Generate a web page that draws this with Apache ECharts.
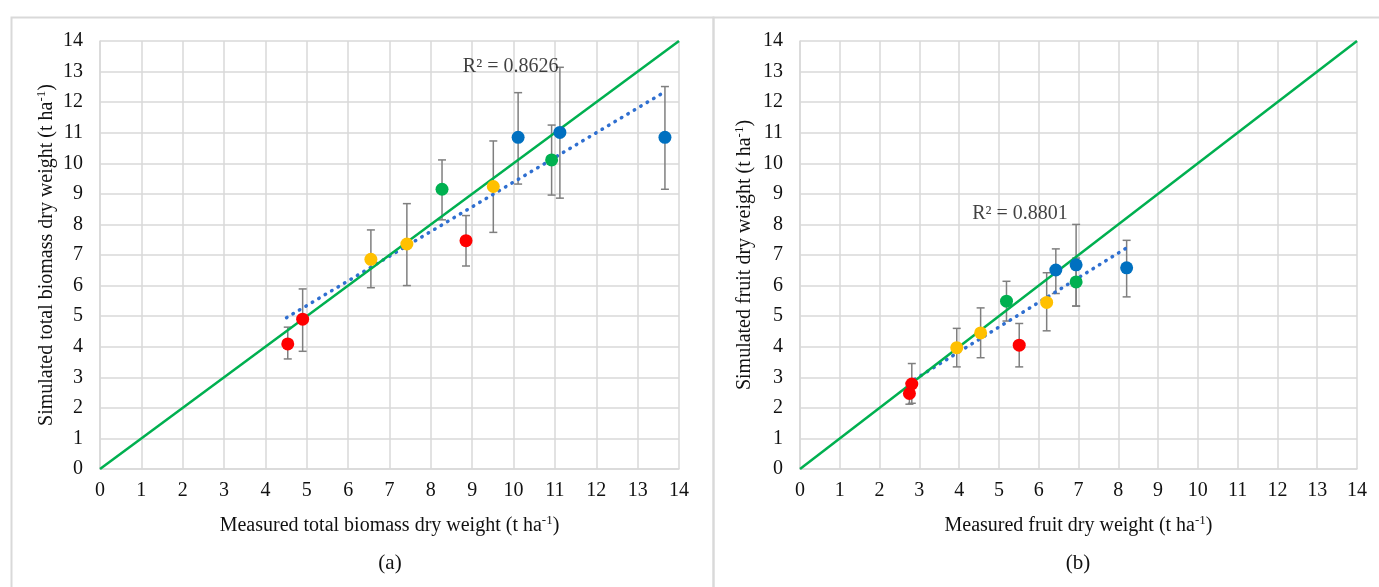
<!DOCTYPE html>
<html>
<head>
<meta charset="utf-8">
<script src="https://cdn.jsdelivr.net/npm/echarts@6/dist/echarts.min.js"></script>
<style>
html,body{margin:0;padding:0;background:#fff;}
#chart{width:1379px;height:587px;}
</style>
</head>
<body>
<div id="chart"></div>
<script>
// ---------- DATA ----------
const groupNames = ['Group 1', 'Group 2', 'Group 3', 'Group 4'];
const axisTicks = [0,1,2,3,4,5,6,7,8,9,10,11,12,13,14];

// Panel (a): total biomass
const aMeasured  = [4.54, 4.90, 8.85, 6.55, 7.42, 9.51, 8.27, 10.92, 10.11, 11.12, 13.66];
const aSimulated = [4.09, 4.90, 7.47, 6.86, 7.36, 9.24, 9.15, 10.11, 10.85, 11.01, 10.85];
const aLow       = [3.60, 3.85, 6.64, 5.93, 6.00, 7.74, 8.15, 8.96, 9.32, 8.86, 9.15];
const aHigh      = [4.64, 5.89, 8.29, 7.82, 8.68, 10.73, 10.11, 11.25, 12.31, 13.14, 12.51];
const aGroup     = [0, 0, 0, 1, 1, 1, 2, 2, 3, 3, 3];
const aTrendX    = [4.51, 13.66];
const aTrendY    = [4.95, 12.34];
const aR2        = 'R² = 0.8626';
const aR2Pos     = [9.93, 13.17];

// Panel (b): fruit
const bMeasured  = [2.81, 2.75, 5.51, 3.94, 4.54, 6.20, 5.19, 6.94, 6.43, 6.94, 8.21];
const bSimulated = [2.78, 2.47, 4.05, 3.97, 4.45, 5.45, 5.49, 6.12, 6.51, 6.68, 6.58];
const bLow       = [2.15, 2.12, 3.34, 3.34, 3.64, 4.52, 4.84, 5.33, 5.74, 5.33, 5.63];
const bHigh      = [3.45, 2.80, 4.76, 4.60, 5.27, 6.42, 6.14, 6.90, 7.20, 8.00, 7.48];
const bGroup     = [0, 0, 0, 1, 1, 1, 2, 2, 3, 3, 3];
const bTrendX    = [2.72, 8.23];
const bTrendY    = [2.80, 7.25];
const bR2        = 'R² = 0.8801';
const bR2Pos     = [5.53, 8.36];

const oneToOne = [0, 14];

// ---------- STYLE ----------
const palette = ['#ff0000', '#ffc000', '#00b050', '#0070c0'];
const FONT = 'Liberation Serif';
const TXT = '#111111';
const GRIDC = '#d9d9d9';
const FS = 20;

const chart = echarts.init(document.getElementById('chart'), null, {renderer: 'canvas'});

const rich = {
  n: {fontFamily: FONT, fontSize: FS, color: TXT, lineHeight: 24},
  s: {fontFamily: FONT, fontSize: 13, color: TXT, lineHeight: 13, verticalAlign: 'top'}
};

function xAxisDef(gi, name) {
  return {
    gridIndex: gi, type: 'value', min: axisTicks[0], max: axisTicks[axisTicks.length-1], interval: 1,
    name: '{n|' + name + ' (t ha}{s|-1}{n|)}', nameLocation: 'middle', nameGap: 45,
    nameTextStyle: {rich: rich},
    axisLine: {lineStyle: {color: GRIDC, width: 1.5}}, axisTick: {show: false},
    axisLabel: {fontFamily: FONT, fontSize: FS, color: TXT, margin: 12},
    splitLine: {show: true, lineStyle: {color: GRIDC, width: 1.5}}
  };
}
function yAxisDef(gi, name, gap) {
  return {
    gridIndex: gi, type: 'value', min: axisTicks[0], max: axisTicks[axisTicks.length-1], interval: 1,
    name: '{n|' + name + ' (t ha}{s|-1}{n|)}', nameLocation: 'middle', nameGap: gap, nameRotate: 90,
    nameTextStyle: {rich: rich},
    axisLine: {show: true, lineStyle: {color: GRIDC, width: 1.5}}, axisTick: {show: false},
    axisLabel: {fontFamily: FONT, fontSize: FS, color: TXT, margin: 17},
    splitLine: {show: true, lineStyle: {color: GRIDC, width: 1.5}}
  };
}

function errRender(params, api) {
  const x = api.value(0), lo = api.value(1), hi = api.value(2);
  const t = api.coord([x, hi]), b = api.coord([x, lo]);
  const cw = 4;
  const st = {stroke: '#7f7f7f', lineWidth: 1.5};
  return {type: 'group', children: [
    {type: 'line', shape: {x1: t[0], y1: t[1], x2: b[0], y2: b[1]}, style: st},
    {type: 'line', shape: {x1: t[0]-cw, y1: t[1], x2: t[0]+cw, y2: t[1]}, style: st},
    {type: 'line', shape: {x1: b[0]-cw, y1: b[1], x2: b[0]+cw, y2: b[1]}, style: st}
  ]};
}

function panelSeries(gi, meas, sim, lo, hi, grp, tx, ty, r2, r2pos) {
  const s = [];
  s.push({
    type: 'custom', xAxisIndex: gi, yAxisIndex: gi, renderItem: errRender,
    encode: {x: 0, y: [1, 2]}, silent: true, z: 1,
    data: meas.map((m, i) => [m, lo[i], hi[i]])
  });
  s.push({
    type: 'line', xAxisIndex: gi, yAxisIndex: gi, symbol: 'none', silent: true, z: 2,
    lineStyle: {color: '#2f6fd0', width: 3.5, type: [0.5, 7], cap: 'round'},
    data: tx.map((x, i) => [x, ty[i]])
  });
  s.push({
    type: 'line', xAxisIndex: gi, yAxisIndex: gi, symbol: 'none', silent: true, z: 3,
    lineStyle: {color: '#00b050', width: 2.5},
    data: oneToOne.map(v => [v, v])
  });
  groupNames.forEach((g, k) => {
    s.push({
      type: 'scatter', name: g, xAxisIndex: gi, yAxisIndex: gi, symbolSize: 13, z: 4,
      itemStyle: {color: palette[k], opacity: 1},
      data: meas.map((m, i) => [m, sim[i], grp[i]]).filter(d => d[2] === k).map(d => [d[0], d[1]])
    });
  });
  s.push({
    type: 'scatter', xAxisIndex: gi, yAxisIndex: gi, symbolSize: 0, silent: true, z: 5,
    label: {show: true, position: 'inside', formatter: r2, fontFamily: FONT, fontSize: FS, color: TXT},
    data: [r2pos]
  });
  return s;
}

const option = {
  animation: false,
  backgroundColor: '#fff',
  grid: [
    {left: 100, top: 41, width: 579, height: 428},
    {left: 800, top: 41, width: 557, height: 428}
  ],
  xAxis: [
    xAxisDef(0, 'Measured total biomass dry weight'),
    xAxisDef(1, 'Measured fruit dry weight')
  ],
  yAxis: [
    yAxisDef(0, 'Simulated total biomass dry weight', 41),
    yAxisDef(1, 'Simulated fruit dry weight', 43)
  ],
  series: [].concat(
    panelSeries(0, aMeasured, aSimulated, aLow, aHigh, aGroup, aTrendX, aTrendY, aR2, aR2Pos),
    panelSeries(1, bMeasured, bSimulated, bLow, bHigh, bGroup, bTrendX, bTrendY, bR2, bR2Pos)
  ),
  graphic: [
    {type: 'rect', left: 9, top: 15, shape: {width: 702, height: 600}, style: {fill: 'none', stroke: GRIDC, lineWidth: 2}, silent: true},
    {type: 'rect', left: 711, top: 15, shape: {width: 670, height: 600}, style: {fill: 'none', stroke: GRIDC, lineWidth: 2}, silent: true},
    {type: 'text', x: 390, y: 563, style: {text: '(a)', fontFamily: FONT, fontSize: 21, fill: TXT, align: 'center', verticalAlign: 'middle'}},
    {type: 'text', x: 1078, y: 563, style: {text: '(b)', fontFamily: FONT, fontSize: 21, fill: TXT, align: 'center', verticalAlign: 'middle'}}
  ]
};
chart.setOption(option);
</script>
</body>
</html>
